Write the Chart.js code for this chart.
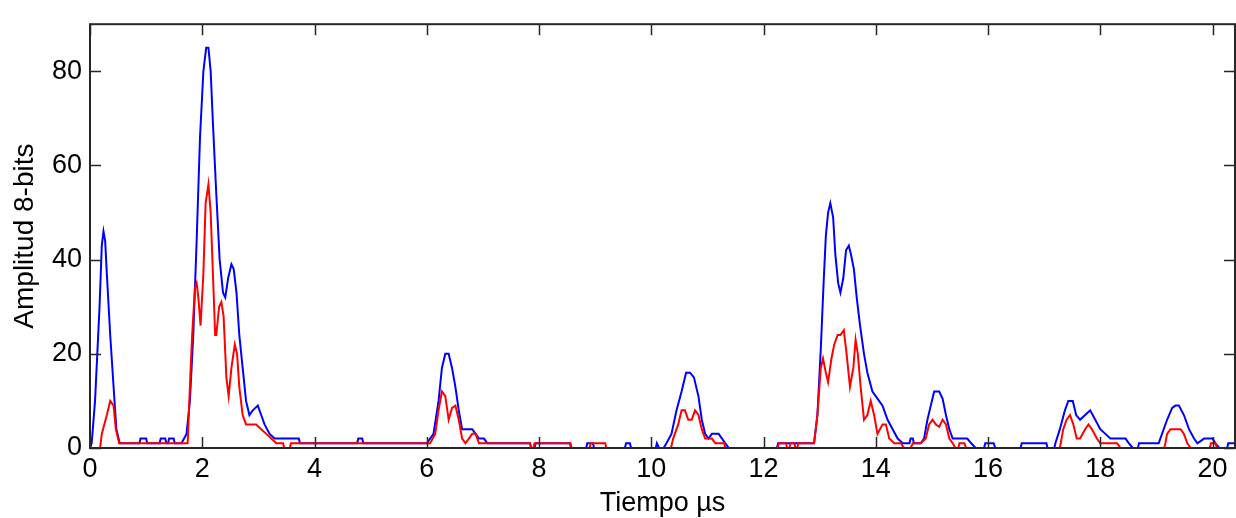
<!DOCTYPE html>
<html>
<head>
<meta charset="utf-8">
<script src="https://cdn.jsdelivr.net/npm/chart.js@4.4.1/dist/chart.umd.min.js"></script>
<style>
  html, body { margin: 0; padding: 0; background: #fff; }
  #wrap { width: 1236px; height: 518px; }
</style>
</head>
<body>
<div id="wrap"><canvas id="pulsos"></canvas></div>
<script>
// Señal azul (amplitud total) - tiempo en µs, amplitud en cuentas de 8 bits
const tiempoAzul = [
  0.00, 0.03, 0.09, 0.17, 0.21, 0.24, 0.27, 0.30, 0.36, 0.42, 0.47, 0.53,
  0.88, 0.90, 1.00, 1.02, 1.24, 1.26, 1.34, 1.36, 1.39, 1.41, 1.49, 1.51,
  1.63, 1.72, 1.78, 1.84, 1.90, 1.96, 2.02, 2.07, 2.11, 2.15, 2.19, 2.25,
  2.31, 2.37, 2.41, 2.46, 2.52, 2.56, 2.61, 2.66, 2.72, 2.78, 2.84, 2.90,
  2.99, 3.05, 3.11, 3.20, 3.29, 3.38, 3.72, 3.74, 4.76, 4.78, 4.85, 4.87,
  6.00, 6.12, 6.21, 6.27, 6.33, 6.39, 6.45, 6.51, 6.57, 6.63, 6.69, 6.81,
  6.87, 6.93, 7.02, 7.08, 7.84, 7.86, 7.92, 7.94, 8.55, 8.57, 8.84, 8.86,
  8.96, 8.98, 9.53, 9.55, 9.62, 9.64, 10.08, 10.10, 10.14, 10.22, 10.27, 10.36,
  10.45, 10.54, 10.62, 10.69, 10.76, 10.84, 10.90, 10.96, 11.02, 11.08, 11.20, 11.26,
  11.32, 11.38, 12.24, 12.26, 12.90, 12.96, 13.02, 13.07, 13.11, 13.15, 13.19, 13.24,
  13.28, 13.33, 13.37, 13.42, 13.47, 13.52, 13.56, 13.61, 13.66, 13.72, 13.79, 13.85,
  13.94, 14.03, 14.12, 14.21, 14.30, 14.39, 14.48, 14.60, 14.62, 14.66, 14.68, 14.80,
  14.86, 14.92, 14.98, 15.04, 15.13, 15.19, 15.25, 15.31, 15.37, 15.63, 15.70, 15.78,
  15.93, 15.95, 16.10, 16.13, 16.58, 16.60, 17.04, 17.06, 17.18, 17.20, 17.28, 17.37,
  17.43, 17.51, 17.57, 17.64, 17.73, 17.82, 17.91, 18.00, 18.09, 18.18, 18.45, 18.51,
  18.58, 18.67, 18.69, 19.04, 19.10, 19.19, 19.28, 19.34, 19.40, 19.49, 19.58, 19.67,
  19.73, 19.85, 20.00, 20.05, 20.12, 20.26, 20.28, 20.40
];
const amplitudAzul = [
  0, 1, 10, 30, 43, 46, 44, 37, 24, 13, 4, 1,
  1, 2, 2, 1, 1, 2, 2, 1, 1, 2, 2, 1,
  1, 3, 10, 24, 44, 66, 80, 85, 85, 80, 69, 54,
  40, 33, 32, 36, 39, 38, 33, 24, 17, 10, 7, 8,
  9, 7, 5, 3, 2, 2, 2, 1, 1, 2, 2, 1,
  1, 3, 10, 17, 20, 20, 17, 13, 8, 4, 4, 4,
  3, 2, 2, 1, 1, 0, 0, 1, 1, 0, 0, 1,
  1, 0, 0, 1, 1, 0, 0, 1, 0, 0, 1, 3,
  8, 12, 16, 16, 15, 11, 6, 3, 2, 3, 3, 2,
  1, 0, 0, 1, 1, 7, 21, 35, 45, 50, 52, 49,
  41, 35, 33, 36, 42, 43, 41, 38, 32, 26, 20, 16,
  12, 10.5, 9, 6, 4, 2, 1, 1, 2, 2, 1, 1,
  2, 6, 9, 12, 12, 10.5, 7, 4, 2, 2, 1, 0,
  0, 1, 1, 0, 0, 1, 1, 0, 0, 1, 4, 8,
  10, 10, 7, 6, 7, 8, 6, 4, 3, 2, 2, 1,
  0, 0, 1, 1, 3, 6, 8.5, 9, 9, 7, 4, 2,
  1, 2, 2, 1, 0, 0, 1, 1
];

// Señal roja
const tiempoRojo = [
  0.00, 0.18, 0.21, 0.30, 0.36, 0.42, 0.46, 0.52, 1.74, 1.79, 1.82, 1.87,
  1.90, 1.93, 1.97, 2.02, 2.06, 2.11, 2.15, 2.19, 2.23, 2.25, 2.30, 2.34,
  2.38, 2.43, 2.47, 2.52, 2.58, 2.62, 2.66, 2.72, 2.78, 2.87, 2.96, 3.05,
  3.14, 3.23, 3.32, 3.44, 3.46, 3.56, 3.58, 6.06, 6.15, 6.21, 6.27, 6.33,
  6.39, 6.45, 6.51, 6.57, 6.63, 6.69, 6.75, 6.81, 6.87, 6.93, 7.84, 7.86,
  7.90, 7.92, 8.56, 8.58, 8.90, 8.92, 9.18, 9.20, 10.35, 10.39, 10.48, 10.54,
  10.60, 10.66, 10.72, 10.78, 10.84, 10.90, 10.96, 11.02, 11.08, 11.14, 11.30, 11.32,
  12.25, 12.27, 12.40, 12.42, 12.46, 12.48, 12.55, 12.57, 12.60, 12.62, 12.90, 12.96,
  13.02, 13.06, 13.11, 13.15, 13.21, 13.26, 13.32, 13.37, 13.43, 13.48, 13.54, 13.60,
  13.64, 13.68, 13.73, 13.79, 13.85, 13.91, 13.97, 14.03, 14.12, 14.18, 14.24, 14.33,
  14.45, 14.50, 14.62, 14.66, 14.80, 14.89, 14.95, 15.01, 15.07, 15.13, 15.19, 15.25,
  15.31, 15.37, 15.42, 15.47, 15.49, 15.58, 15.61, 17.28, 17.34, 17.40, 17.46, 17.52,
  17.58, 17.64, 17.73, 17.79, 17.85, 17.94, 18.00, 18.30, 18.36, 19.14, 19.16, 19.19,
  19.25, 19.43, 19.49, 19.55, 19.61, 19.95, 19.97, 20.05, 20.08, 20.40
];
const amplitudRojo = [
  0, 0, 3, 7, 10, 9, 4, 1, 1, 16, 24, 34,
  35, 32, 26, 37, 52, 56, 50, 37, 24, 24, 30, 31,
  28, 15, 11, 17, 22, 20, 13, 7, 5, 5, 5, 4,
  3, 2, 1, 1, 0, 0, 1, 1, 3, 8, 12, 11,
  6, 8.5, 9, 6, 2, 1, 2, 3, 3, 1, 1, 0,
  0, 1, 1, 0, 0, 1, 1, 0, 0, 2, 5, 8,
  8, 6, 6, 8, 7, 4, 2, 2, 2, 1, 1, 0,
  0, 1, 1, 0, 0, 1, 1, 0, 0, 1, 1, 7,
  17, 19, 16, 14, 19, 22, 24, 24, 25, 20, 13, 17,
  23, 20, 13, 6, 7, 10, 7, 3, 5, 5, 2, 1,
  1, 0, 0, 1, 1, 2, 5, 6, 5, 4.5, 6, 5,
  2, 1, 0, 0, 1, 1, 0, 0, 4, 6, 7, 5,
  2, 2, 4, 5, 4, 2, 1, 1, 0, 0, 1, 3,
  4, 4, 3, 1, 0, 0, 1, 1, 0, 0
];

const ticksX = [0, 2, 4, 6, 8, 10, 12, 14, 16, 18, 20];
const ticksY = [0, 20, 40, 60, 80];

function puntos(ts, vs) {
  return ts.map((t, i) => ({ x: t, y: vs[i] }));
}

const fuente = 'Arial, "Liberation Sans", Helvetica, sans-serif';

// marco y marcas hacia dentro (estilo MATLAB)
const marco = {
  id: 'marco',
  afterDatasetsDraw(chart) {
    const { ctx, chartArea: a, scales } = chart;
    const len = 11;
    ctx.save();
    ctx.strokeStyle = '#262626';
    ctx.lineWidth = 1.5;
    ctx.beginPath();
    scales.x.ticks.forEach(t => {
      const px = Math.round(scales.x.getPixelForValue(t.value)) + 0.5;
      ctx.moveTo(px, a.bottom); ctx.lineTo(px, a.bottom - len);
      ctx.moveTo(px, a.top); ctx.lineTo(px, a.top + len);
    });
    scales.y.ticks.forEach(t => {
      const py = Math.round(scales.y.getPixelForValue(t.value)) + 0.5;
      ctx.moveTo(a.left, py); ctx.lineTo(a.left + len, py);
      ctx.moveTo(a.right, py); ctx.lineTo(a.right - len, py);
    });
    ctx.stroke();
    ctx.lineWidth = 2;
    ctx.strokeRect(a.left, a.top, a.right - a.left, a.bottom - a.top);
    ctx.restore();
  }
};

new Chart(document.getElementById('pulsos'), {
  type: 'line',
  data: {
    datasets: [
      {
        label: 'rojo',
        data: puntos(tiempoRojo, amplitudRojo),
        borderColor: '#ff0000',
        borderWidth: 2,
        pointRadius: 0,
        tension: 0,
        order: 0
      },
      {
        label: 'azul',
        data: puntos(tiempoAzul, amplitudAzul),
        borderColor: '#0000ff',
        borderWidth: 2,
        pointRadius: 0,
        tension: 0,
        order: 1
      }
    ]
  },
  options: {
    responsive: true,
    maintainAspectRatio: false,
    animation: false,
    layout: { padding: { top: 10, right: 1, left: 0, bottom: 0 } },
    plugins: { legend: { display: false }, tooltip: { enabled: false } },
    scales: {
      x: {
        type: 'linear',
        min: 0,
        max: 20.4,
        afterFit(s) { s.height = 70; },
        afterBuildTicks(s) { s.ticks = ticksX.map(v => ({ value: v })); },
        grid: { display: false, drawTicks: false },
        border: { display: false },
        ticks: {
          color: '#000',
          padding: 5,
          font: { family: fuente, size: 27 },
          maxRotation: 0,
          autoSkip: false
        },
        title: {
          display: true,
          text: 'Tiempo µs',
          color: '#000',
          font: { family: fuente, size: 27, lineHeight: 1 },
          padding: { top: 0, bottom: 1 }
        }
      },
      y: {
        min: 0,
        max: 90,
        afterFit(s) { s.width = 90; },
        afterBuildTicks(s) { s.ticks = ticksY.map(v => ({ value: v })); },
        grid: { display: false, drawTicks: false },
        border: { display: false },
        ticks: {
          color: '#000',
          padding: 8,
          font: { family: fuente, size: 27 }
        },
        title: {
          display: true,
          text: 'Amplitud 8-bits',
          color: '#000',
          font: { family: fuente, size: 28 },
          padding: { top: 8, bottom: 0 }
        }
      }
    }
  },
  plugins: [marco]
});
</script>
</body>
</html>
